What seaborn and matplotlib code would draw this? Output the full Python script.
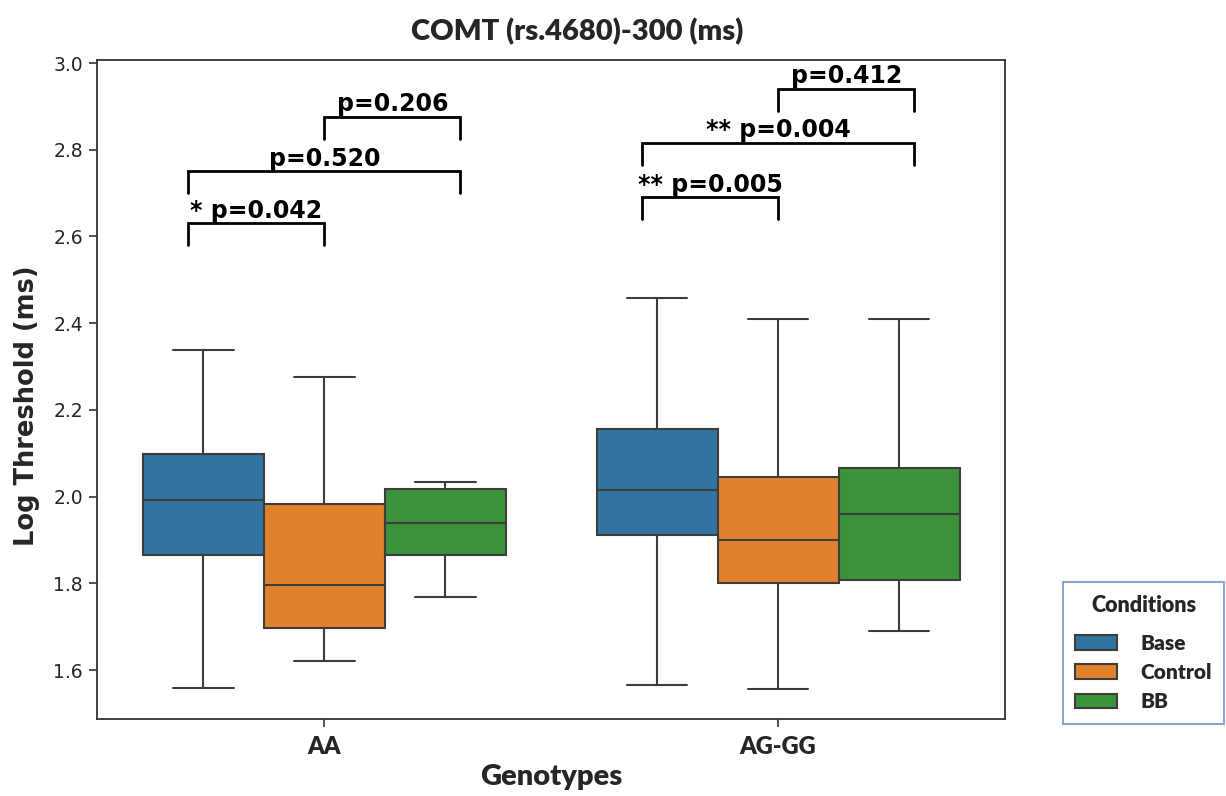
import numpy as np
import pandas as pd
import matplotlib
matplotlib.use('Agg')
import matplotlib.pyplot as plt
import seaborn as sns

sns.set_style('white')
plt.rcParams['font.family'] = ['DejaVu Sans']

# ── Data ──────────────────────────────────────────────────────────────────────
GENOTYPES  = ['AA', 'AG-GG']
CONDITIONS = ['Base', 'Control', 'BB']
COLORS     = ['#1f77b4', '#ff7f0e', '#2ca02c']

# five-number summaries: min, q1, median, q3, max
AA_BASE    = [1.558, 1.865, 1.993, 2.099, 2.339]
AA_CONTROL = [1.621, 1.696, 1.795, 1.983, 2.276]
AA_BB      = [1.768, 1.865, 1.940, 2.018, 2.033]
AG_BASE    = [1.566, 1.912, 2.015, 2.156, 2.458]
AG_CONTROL = [1.557, 1.800, 1.899, 2.045, 2.410]
AG_BB      = [1.691, 1.807, 1.960, 2.065, 2.410]

# significance brackets: genotype, cond a, cond b, label, bracket base
PAIR_GENO  = ['AA', 'AA', 'AA', 'AG-GG', 'AG-GG', 'AG-GG']
PAIR_A     = ['Base', 'Base', 'Control', 'Base', 'Base', 'Control']
PAIR_B     = ['Control', 'BB', 'BB', 'Control', 'BB', 'BB']
PAIR_LABEL = ['* p=0.042', 'p=0.520', 'p=0.206',
              '** p=0.005', '** p=0.004', 'p=0.412']
PAIR_BASE  = [2.58, 2.70, 2.825, 2.64, 2.765, 2.89]

rows = []
for geno, cond, vals in [
    ('AA', 'Base', AA_BASE), ('AA', 'Control', AA_CONTROL), ('AA', 'BB', AA_BB),
    ('AG-GG', 'Base', AG_BASE), ('AG-GG', 'Control', AG_CONTROL), ('AG-GG', 'BB', AG_BB),
]:
    for v in vals:
        rows.append({'Genotypes': geno, 'Conditions': cond, 'value': v})
df = pd.DataFrame(rows)

# bracket tip offsets relative to the genotype tick
TIP_OFFSET = {'Base': -0.3, 'Control': 0.0, 'BB': 0.3}
BRACKET_H  = 0.05

# ── Figure ───────────────────────────────────────────────────────────────────
fig = plt.figure(figsize=(12.26, 7.96), dpi=100)
ax = fig.add_axes([0.0795, 0.0967, 0.7402, 0.8279])

sns.boxplot(data=df, x='Genotypes', y='value', hue='Conditions',
            order=GENOTYPES, hue_order=CONDITIONS, palette=COLORS,
            whis=(0, 100), linewidth=1.5, ax=ax)

ax.set_ylim(1.487, 3.007)
ax.set_xlim(-0.5, 1.5)
ax.set_yticks(np.arange(1.6, 3.01, 0.2))

for spine in ax.spines.values():
    spine.set_color('#333333')
    spine.set_linewidth(1.3)

ax.tick_params(axis='y', length=5.5, width=1.2, pad=5, labelsize=13.5,
               labelcolor='#262626', color='#333333', left=True)
ax.tick_params(axis='x', length=5.5, width=1.2, pad=7, color='#333333', bottom=True)
for lab in ax.get_xticklabels():
    lab.set_fontfamily('Lato')
    lab.set_fontweight('heavy')
    lab.set_fontsize(17)

ax.set_xlabel('Genotypes', fontsize=21, fontweight='heavy', family='Lato', labelpad=4)
ax.set_ylabel('Log Threshold (ms)', fontsize=18.5, fontweight='bold')
ax.yaxis.set_label_coords(-0.063, 0.475)

# significance brackets
for geno, a, b, label, base in zip(PAIR_GENO, PAIR_A, PAIR_B, PAIR_LABEL, PAIR_BASE):
    xc = GENOTYPES.index(geno)
    x1 = xc + TIP_OFFSET[a]
    x2 = xc + TIP_OFFSET[b]
    top = base + BRACKET_H
    ax.plot([x1, x1, x2, x2], [base, top, top, base], color='black', lw=2,
            solid_joinstyle='miter')
    ax.text((x1 + x2) / 2, top + 0.002, label, ha='center', va='bottom',
            fontsize=17, fontweight='bold', color='black')

# legend outside on the right
handles, labels = ax.get_legend_handles_labels()
if ax.legend_:
    ax.legend_.remove()
leg = fig.legend(handles, labels, title='Conditions', loc='lower left',
                 bbox_to_anchor=(0.867, 0.0905), borderaxespad=0,
                 fancybox=False, frameon=True, handlelength=2.0,
                 handletextpad=1.1, labelspacing=0.5, borderpad=0.6,
                 prop={'family': 'Lato', 'weight': 'heavy', 'size': 15},
                 title_fontproperties={'family': 'Lato', 'weight': 'heavy', 'size': 15.5})
leg.get_frame().set_edgecolor('#6f8fc8')
leg.get_frame().set_linewidth(1.5)
leg._legend_box.sep = 13

fig.text(0.4706, 0.96, 'COMT (rs.4680)-300 (ms)', ha='center', va='center',
         fontsize=21, fontweight='heavy', family='Lato')

fig.savefig('out.png', dpi=100)
